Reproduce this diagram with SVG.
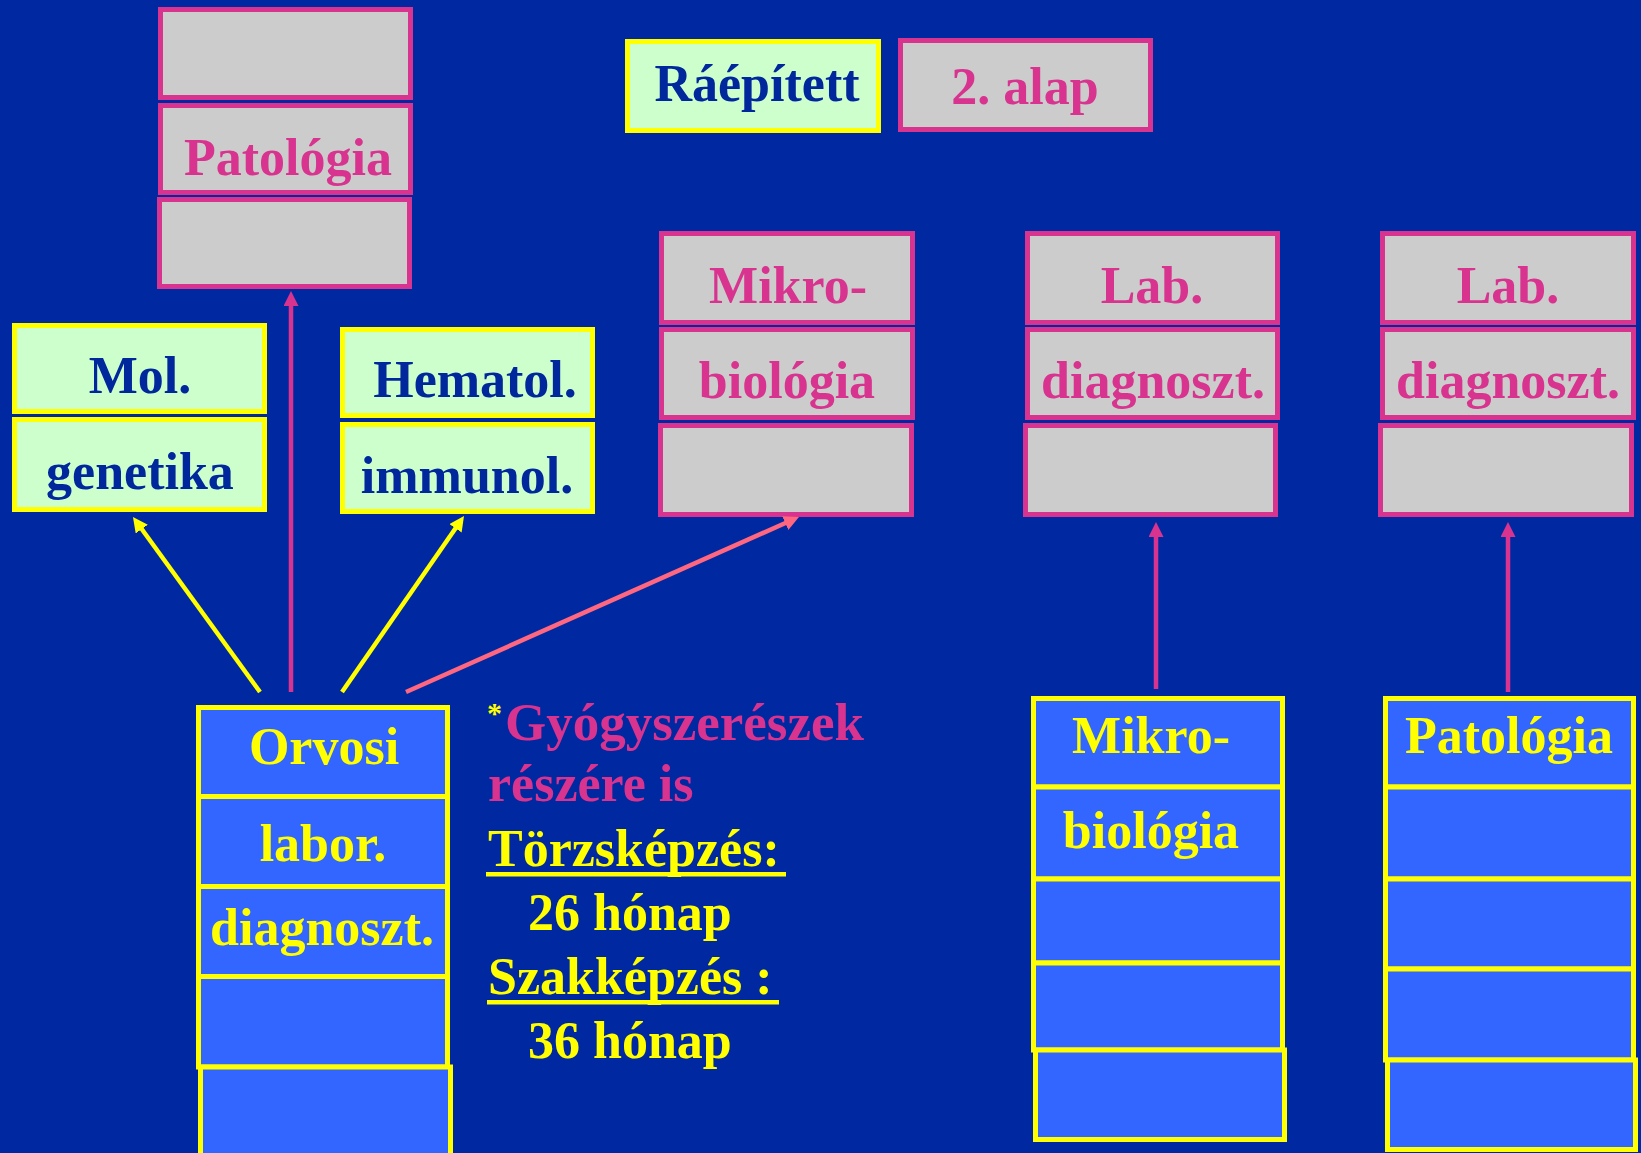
<svg xmlns="http://www.w3.org/2000/svg" width="1641" height="1153" viewBox="0 0 1641 1153">
<style>
text{font-family:"Liberation Serif","Times New Roman",serif;font-weight:bold;font-size:52px}
.c{text-anchor:middle}
.gp{fill:#CCCCCC;stroke:#D8338F;stroke-width:5}
.gy{fill:#CCFFCC;stroke:#FFFF00;stroke-width:5}
.by{fill:#3366FF;stroke:#FFFF00;stroke-width:5}
.tp{fill:#D8338F}
.tn{fill:#00289C}
.ty{fill:#FFFF00}
.lp{stroke:#D8338F;stroke-width:4.5;fill:none}
.ly{stroke:#FFFF00;stroke-width:4.5;fill:none}
.ls{stroke:#FF6680;stroke-width:4.5;fill:none}
</style>
<defs>
<marker id="ap" markerUnits="userSpaceOnUse" markerWidth="15" markerHeight="15" refX="2" refY="7.5" orient="auto"><path d="M0,0 L15,7.5 L0,15 z" fill="#D8338F"/></marker>
<marker id="ay" markerUnits="userSpaceOnUse" markerWidth="15" markerHeight="15" refX="2" refY="7.5" orient="auto"><path d="M0,0 L15,7.5 L0,15 z" fill="#FFFF00"/></marker>
<marker id="as" markerUnits="userSpaceOnUse" markerWidth="15" markerHeight="15" refX="2" refY="7.5" orient="auto"><path d="M0,0 L15,7.5 L0,15 z" fill="#FF6680"/></marker>
</defs>
<rect x="0" y="0" width="1641" height="1153" fill="#0028A0"/>

<g id="patologia-top">
<rect class="gp" x="160.5" y="9.5" width="250" height="88"/>
<rect class="gp" x="160.5" y="105.5" width="250" height="87"/>
<rect class="gp" x="159.5" y="199.5" width="250" height="87"/>
<text class="c tp" x="288" y="175">Patológia</text>
</g>

<g id="mol-genetika">
<rect class="gy" x="14.5" y="325.5" width="250" height="86"/>
<rect class="gy" x="14.5" y="419.5" width="250" height="90"/>
<text class="c tn" x="140" y="393">Mol.</text>
<text class="c tn" x="140" y="489">genetika</text>
</g>

<g id="hematol-immunol">
<rect class="gy" x="342.5" y="329.5" width="250" height="86"/>
<rect class="gy" x="342.5" y="424.5" width="250" height="87"/>
<text class="c tn" x="475" y="397">Hematol.</text>
<text class="c tn" x="467" y="493">immunol.</text>
</g>

<g id="raepitett">
<rect class="gy" x="627.5" y="41.5" width="251" height="89"/>
<text class="c tn" x="757" y="101">Ráépített</text>
</g>

<g id="alap2">
<rect class="gp" x="900.5" y="40.5" width="250" height="89"/>
<text class="c tp" x="1025" y="104">2. alap</text>
</g>

<g id="mikrobiologia-top">
<rect class="gp" x="661.5" y="233.5" width="251" height="89"/>
<rect class="gp" x="661.5" y="329.5" width="251" height="88"/>
<rect class="gp" x="660.5" y="425.5" width="251" height="89"/>
<text class="c tp" x="788" y="303">Mikro-</text>
<text class="c tp" x="787" y="398">biológia</text>
</g>

<g id="labdiag-mid">
<rect class="gp" x="1027.5" y="233.5" width="250" height="89"/>
<rect class="gp" x="1027.5" y="329.5" width="250" height="88"/>
<rect class="gp" x="1025.5" y="425.5" width="250" height="89"/>
<text class="c tp" x="1152" y="303">Lab.</text>
<text class="c tp" x="1153" y="398">diagnoszt.</text>
</g>

<g id="labdiag-right">
<rect class="gp" x="1382.5" y="233.5" width="251" height="89"/>
<rect class="gp" x="1382.5" y="329.5" width="251" height="88"/>
<rect class="gp" x="1380.5" y="425.5" width="251" height="89"/>
<text class="c tp" x="1508" y="303">Lab.</text>
<text class="c tp" x="1508" y="398">diagnoszt.</text>
</g>

<g id="orvosi">
<rect class="by" x="198.5" y="707.5" width="249" height="89"/>
<rect class="by" x="198.5" y="796.5" width="249" height="90"/>
<rect class="by" x="198.5" y="886.5" width="249" height="90"/>
<rect class="by" x="198.5" y="976.5" width="249" height="90.5"/>
<rect class="by" x="200.5" y="1067" width="250" height="100"/>
<text class="c ty" x="324" y="764">Orvosi</text>
<text class="c ty" x="323" y="861">labor.</text>
<text class="c ty" x="322" y="945">diagnoszt.</text>
</g>

<g id="mikrobiologia-bottom">
<rect class="by" x="1033.5" y="698.5" width="249" height="88.5"/>
<rect class="by" x="1033.5" y="787" width="249" height="92"/>
<rect class="by" x="1033.5" y="879" width="249" height="84"/>
<rect class="by" x="1033.5" y="963" width="249" height="87"/>
<rect class="by" x="1035.5" y="1050" width="249" height="89.5"/>
<text class="c ty" x="1151" y="753">Mikro-</text>
<text class="c ty" x="1151" y="848">biológia</text>
</g>

<g id="patologia-bottom">
<rect class="by" x="1385.5" y="698.5" width="248" height="88.5"/>
<rect class="by" x="1385.5" y="787" width="248" height="92"/>
<rect class="by" x="1385.5" y="879" width="248" height="90"/>
<rect class="by" x="1385.5" y="969" width="248" height="91"/>
<rect class="by" x="1387.5" y="1060" width="248" height="89.5"/>
<text class="c ty" x="1509" y="753">Patológia</text>
</g>

<g id="notes">
<text class="ty" x="487" y="723" style="font-size:30px">*</text>
<text class="tp" x="505" y="740" textLength="359" lengthAdjust="spacingAndGlyphs">Gyógyszerészek</text>
<text class="tp" x="488" y="801">részére is</text>
<text class="ty" x="488" y="866">Törzsképzés:</text>
<rect x="486" y="872" width="300" height="4.5" fill="#FFFF00"/>
<text class="ty" x="528" y="930">26 hónap</text>
<text class="ty" x="488" y="994">Szakképzés :</text>
<rect x="487" y="1000" width="292" height="4.5" fill="#FFFF00"/>
<text class="ty" x="528" y="1058">36 hónap</text>
</g>

<g id="connectors">
<line class="lp" x1="291" y1="692" x2="291" y2="304" marker-end="url(#ap)"/>
<line class="ly" x1="260" y1="692" x2="140.6" y2="527.5" marker-end="url(#ay)"/>
<line class="ly" x1="342" y1="692" x2="456.6" y2="526.7" marker-end="url(#ay)"/>
<line class="ls" x1="406" y1="692" x2="787.1" y2="522.3" marker-end="url(#as)"/>
<line class="lp" x1="1156" y1="689" x2="1156" y2="535" marker-end="url(#ap)"/>
<line class="lp" x1="1508" y1="692" x2="1508" y2="535" marker-end="url(#ap)"/>
</g>
</svg>
